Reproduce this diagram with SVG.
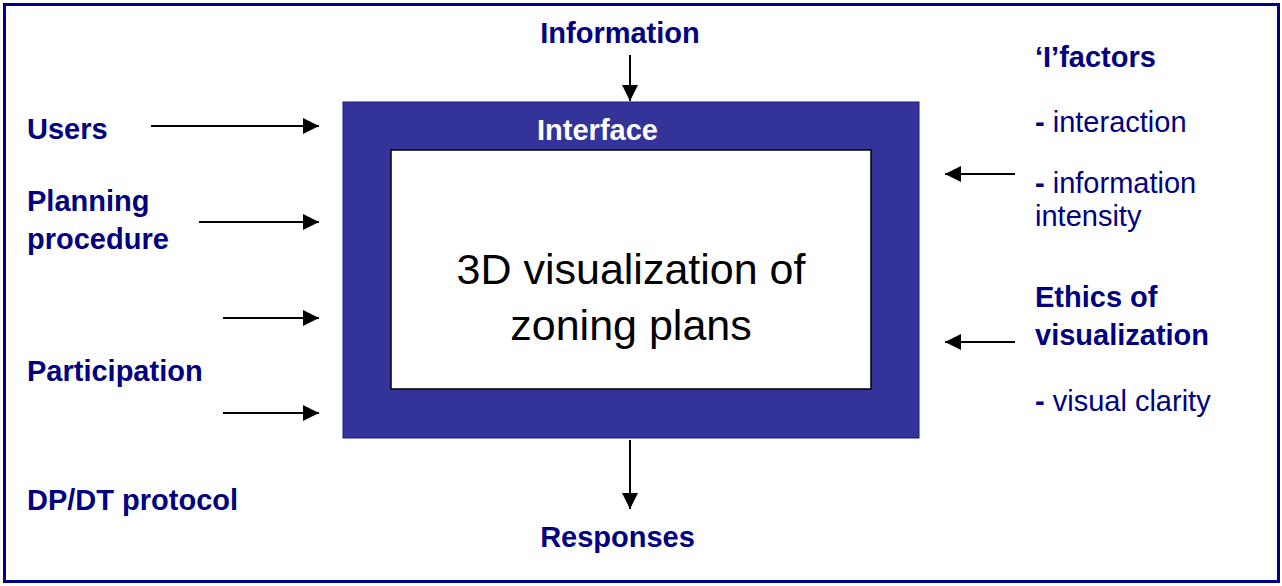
<svg xmlns="http://www.w3.org/2000/svg" width="1282" height="586" viewBox="0 0 1282 586">
  <defs>
    <marker id="arrowhead" viewBox="0 0 16 16" refX="16" refY="8" markerWidth="16" markerHeight="16" markerUnits="userSpaceOnUse" orient="auto">
      <path d="M0,0 L16,8 L0,16 Z" fill="#000"/>
    </marker>
    <style>
      .frame { fill: #fff; stroke: #000080; stroke-width: 3; }
      .label { font-family: "Liberation Sans", Arial, sans-serif; font-size: 29px; font-weight: bold; fill: #000080; }
      .note { font-family: "Liberation Sans", Arial, sans-serif; font-size: 29px; fill: #000080; }
      .dash { font-weight: bold; }
      .conn { stroke: #000; stroke-width: 2; fill: none; marker-end: url(#arrowhead); }
    </style>
  </defs>

  <!-- outer frame -->
  <rect class="frame" x="4.5" y="4.5" width="1274" height="577"/>

  <!-- interface block with the central content box -->
  <g id="interface">
    <rect x="343" y="102" width="576" height="336" fill="#333399" stroke="#1a1a80" stroke-width="1"/>
    <text x="597.5" y="140" text-anchor="middle" font-family="'Liberation Sans', Arial, sans-serif" font-size="29" font-weight="bold" fill="#fff">Interface</text>
  </g>
  <g id="visualization">
    <rect x="391" y="150" width="480" height="239" fill="#fff" stroke="#000" stroke-width="1.5"/>
    <text x="631" y="284" text-anchor="middle" font-family="'Liberation Sans', Arial, sans-serif" font-size="43" fill="#000">3D visualization of</text>
    <text x="631" y="340" text-anchor="middle" font-family="'Liberation Sans', Arial, sans-serif" font-size="43" fill="#000">zoning plans</text>
  </g>

  <!-- inputs on the left -->
  <g id="users"><text class="label" x="27" y="139">Users</text></g>
  <g id="planning-procedure">
    <text class="label" x="27" y="211">Planning</text>
    <text class="label" x="27" y="249">procedure</text>
  </g>
  <g id="participation"><text class="label" x="27" y="381">Participation</text></g>
  <g id="dp-dt-protocol"><text class="label" x="27" y="510">DP/DT protocol</text></g>

  <!-- top and bottom -->
  <g id="information"><text class="label" x="620" y="43" text-anchor="middle">Information</text></g>
  <g id="responses"><text class="label" x="617.5" y="547" text-anchor="middle">Responses</text></g>

  <!-- factors on the right -->
  <g id="i-factors">
    <text class="label" x="1035" y="67">‘I’factors</text>
    <text class="note" x="1035" y="132"><tspan class="dash">-</tspan> interaction</text>
    <text class="note" x="1035" y="193"><tspan class="dash">-</tspan> information</text>
    <text class="note" x="1035" y="226">intensity</text>
  </g>
  <g id="ethics">
    <text class="label" x="1035" y="307">Ethics of</text>
    <text class="label" x="1035" y="345">visualization</text>
    <text class="note" x="1035" y="411"><tspan class="dash">-</tspan> visual clarity</text>
  </g>

  <!-- connectors -->
  <g id="connectors">
    <line class="conn" x1="151" y1="126" x2="319" y2="126"/>
    <line class="conn" x1="199" y1="222" x2="319" y2="222"/>
    <line class="conn" x1="223" y1="318" x2="319" y2="318"/>
    <line class="conn" x1="223" y1="413" x2="319" y2="413"/>
    <line class="conn" x1="630" y1="55" x2="630" y2="101"/>
    <line class="conn" x1="630" y1="440" x2="630" y2="509"/>
    <line class="conn" x1="1015" y1="174" x2="945" y2="174"/>
    <line class="conn" x1="1015" y1="342" x2="945" y2="342"/>
  </g>
</svg>
